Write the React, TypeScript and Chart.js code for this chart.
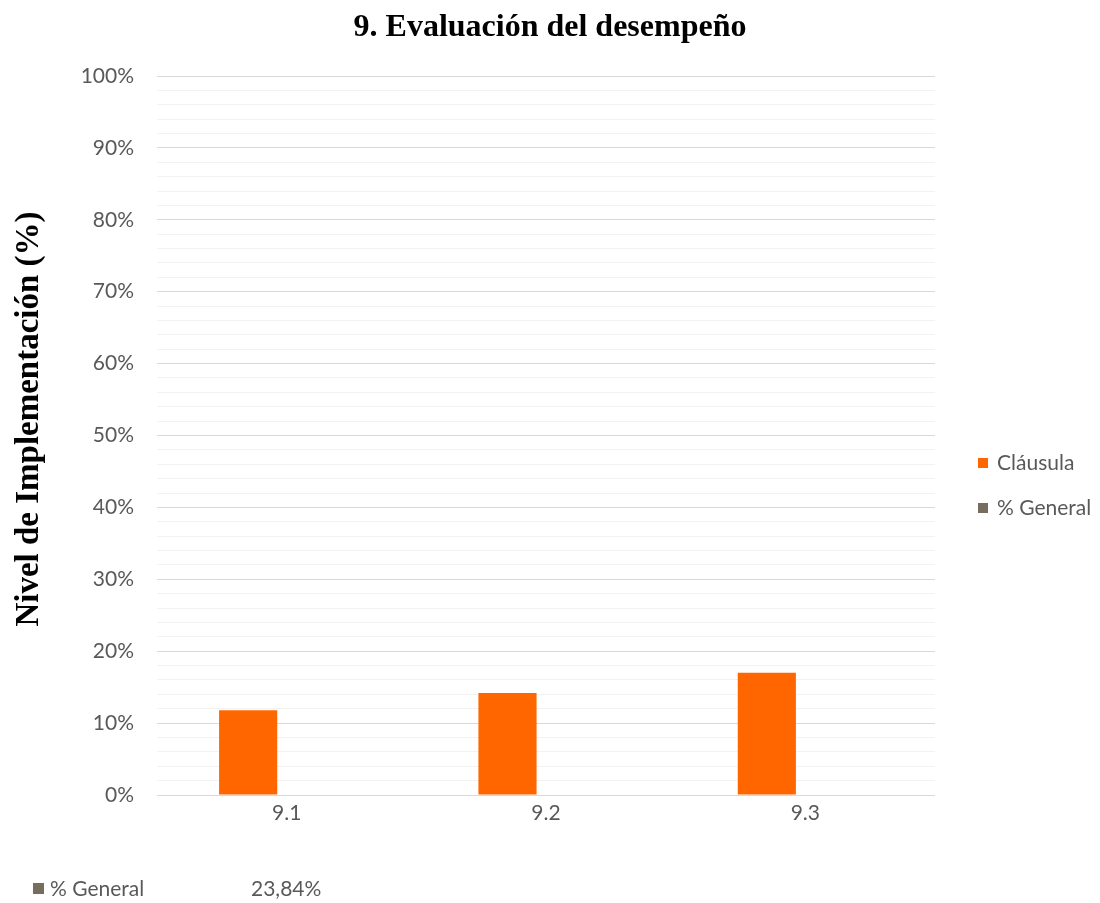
import React, { useEffect, useRef } from "react";
import { Chart, registerables } from "chart.js";

Chart.register(...registerables);

// Data
const categories = ["9.1", "9.2", "9.3"];
const clausulaValues = [11.8, 14.2, 17.0];
const generalValues: (number | null)[] = [null, null, null];
const generalPercent = 23.84;
const yTickStep = 2;
const yMax = 100;

const TITLE = "9. Evaluación del desempeño";
const Y_TITLE = "Nivel de Implementación (%)";

const ORANGE = "#FF6600";
const TAUPE = "#776D5F";
const TEXT_GRAY = "#595959";
const SANS = "Lato, 'Open Sans', sans-serif";
const SERIF = "'Liberation Serif', 'Times New Roman', serif";

const formatPct = (v: number) => v.toFixed(2).replace(".", ",") + "%";

// Titles, the legend on the right and the summary row at the bottom.
const decorPlugin = {
  id: "decor",
  afterDraw(chart: any) {
    const { ctx, width } = chart;
    ctx.save();

    // chart title
    ctx.fillStyle = "#000000";
    ctx.font = `bold 32px ${SERIF}`;
    ctx.textAlign = "center";
    ctx.textBaseline = "middle";
    ctx.fillText(TITLE, width / 2, 28);

    // vertical axis title
    ctx.save();
    ctx.translate(29.5, 419);
    ctx.rotate(-Math.PI / 2);
    ctx.font = `bold 33px ${SERIF}`;
    ctx.fillText(Y_TITLE, 0, 0);
    ctx.restore();

    // legend
    ctx.font = `21px ${SANS}`;
    ctx.textAlign = "left";
    const items = chart.data.datasets.map((ds: any) => ({
      label: ds.label,
      color: ds.backgroundColor,
    }));
    const x0 = 978;
    const y0 = 463;
    const gap = 45;
    items.forEach((it: any, i: number) => {
      const y = y0 + i * gap;
      ctx.fillStyle = it.color;
      ctx.fillRect(x0, y - 5, 10, 10);
      ctx.fillStyle = TEXT_GRAY;
      ctx.fillText(it.label, x0 + 19, y);
    });

    // summary row
    const gy = 889;
    ctx.fillStyle = TAUPE;
    ctx.fillRect(33, gy - 6, 11, 11);
    ctx.fillStyle = TEXT_GRAY;
    ctx.fillText(items[1].label, 50, gy);
    ctx.fillText(formatPct(generalPercent), 251, gy);
    ctx.restore();
  },
};

export default function App() {
  const canvasRef = useRef<HTMLCanvasElement | null>(null);

  useEffect(() => {
    const canvas = canvasRef.current;
    if (!canvas) return;
    const chart = new Chart(canvas, {
      type: "bar",
      data: {
        labels: categories,
        datasets: [
          {
            label: "Cláusula",
            data: clausulaValues,
            backgroundColor: ORANGE,
            categoryPercentage: 0.594,
            barPercentage: 0.755,
          },
          {
            label: "% General",
            data: generalValues,
            backgroundColor: TAUPE,
            categoryPercentage: 0.594,
            barPercentage: 0.755,
          },
        ],
      },
      options: {
        animation: false,
        responsive: false,
        devicePixelRatio: 1,
        layout: { padding: { left: 0, right: 165, top: 76, bottom: 0 } },
        plugins: {
          legend: { display: false },
          tooltip: { enabled: false },
          title: { display: false },
        },
        scales: {
          x: {
            grid: { display: false, drawTicks: false },
            border: { display: false },
            ticks: {
              color: TEXT_GRAY,
              font: { family: SANS, size: 21 },
              padding: 6,
            },
            afterFit(scale: any) {
              scale.height = 108;
            },
          },
          y: {
            min: 0,
            max: yMax,
            border: { display: false },
            grid: {
              drawTicks: false,
              color: (c: any) =>
                c.tick && c.tick.value % 10 === 0 ? "#D9D9D9" : "#F2F2F2",
              lineWidth: 1,
            },
            ticks: {
              stepSize: yTickStep,
              autoSkip: false,
              color: TEXT_GRAY,
              font: { family: SANS, size: 21 },
              padding: 23,
              callback: (v: any) => (Number(v) % 10 === 0 ? `${v}%` : ""),
            },
            afterFit(scale: any) {
              scale.width = 157;
            },
          },
        },
      },
      plugins: [decorPlugin],
    });
    return () => chart.destroy();
  }, []);

  return (
    <div
      style={{
        position: "absolute",
        left: 0,
        top: 0,
        width: 1100,
        height: 903,
        background: "#ffffff",
      }}
    >
      <canvas ref={canvasRef} width={1100} height={903} />
    </div>
  );
}
